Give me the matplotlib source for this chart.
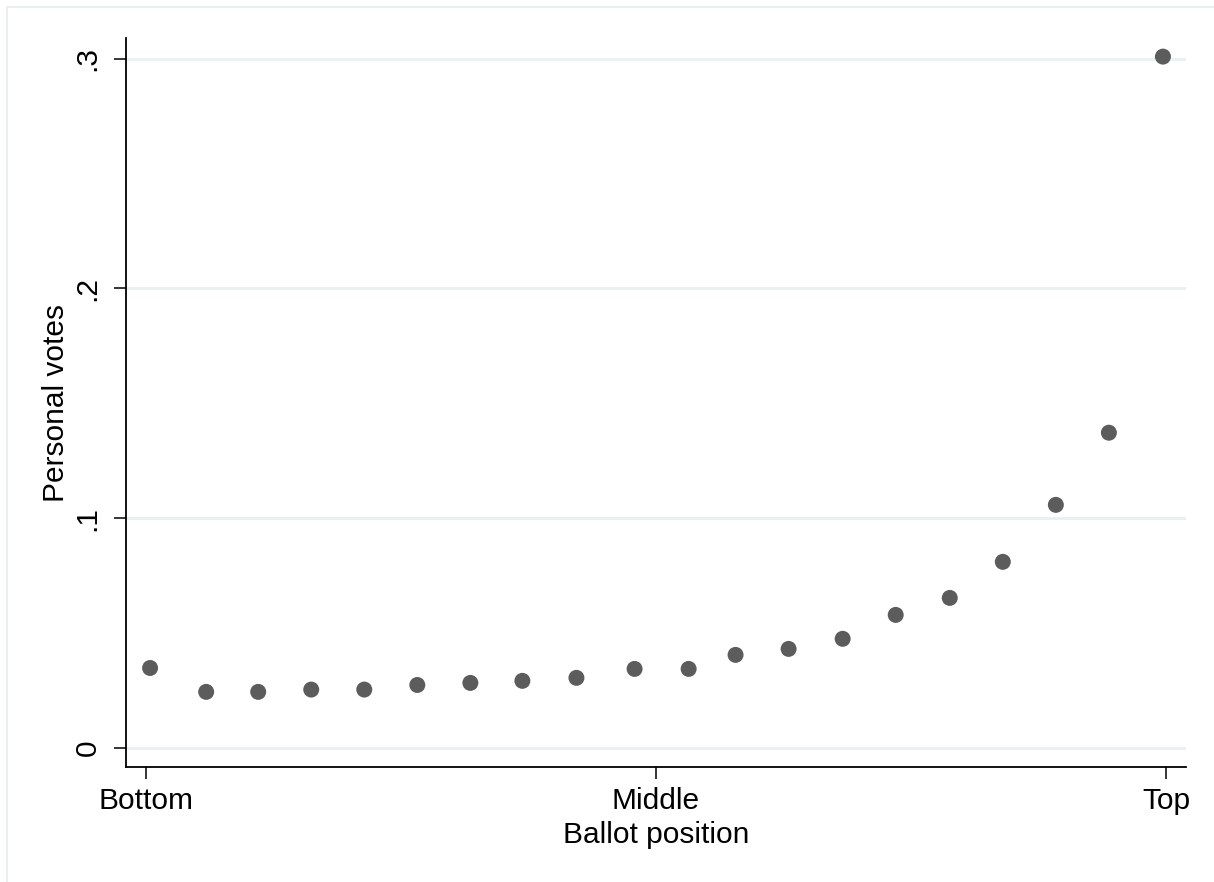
import matplotlib
matplotlib.use("Agg")
import matplotlib.pyplot as plt
from matplotlib.patches import Rectangle

plt.rcParams['font.family'] = ['Liberation Sans', 'DejaVu Sans']

ballot_pos = [0.004, 0.059, 0.110, 0.162, 0.214, 0.266, 0.318, 0.369, 0.422, 0.479,
              0.532, 0.578, 0.630, 0.683, 0.735, 0.788, 0.840, 0.892, 0.944, 0.997]
personal_votes = [0.0348, 0.0244, 0.0244, 0.0254, 0.0254, 0.0274, 0.0283, 0.0292, 0.0305, 0.0344,
                  0.0344, 0.0405, 0.0431, 0.0475, 0.0579, 0.0653, 0.0810, 0.1058, 0.1372, 0.3009]
x_ticks = [0, 0.5, 1]
x_ticklabels = ["Bottom", "Middle", "Top"]
y_ticks = [0, 0.1, 0.2, 0.3]
y_ticklabels = ["0", ".1", ".2", ".3"]

fig = plt.figure(figsize=(12.14, 8.82), dpi=100)
fig.patches.append(Rectangle((7/1214, -0.05), 1.1, 1.05 - 7/882, transform=fig.transFigure,
                             fill=False, edgecolor='#e6eef0', linewidth=1.2))
ax = fig.add_axes([126/1214, 1 - 767/882, 1060/1214, 729/882])

ax.scatter(ballot_pos, personal_votes, s=(11.5)**2, color='#5c5c5c', edgecolors='none', zorder=3)

ax.set_xlim(-0.0196, 1.0196)
ax.set_ylim(-0.0083, 0.309)
ax.set_xticks(x_ticks)
ax.set_xticklabels(x_ticklabels)
ax.set_yticks(y_ticks)
ax.set_yticklabels(y_ticklabels, rotation=90, va='center')

for s in ['top', 'right']:
    ax.spines[s].set_visible(False)
for s in ['left', 'bottom']:
    ax.spines[s].set_linewidth(1.3)
    ax.spines[s].set_color('black')

ax.tick_params(axis='both', length=8.5, width=1.1, labelsize=21.5)
ax.tick_params(axis='y', pad=9)
ax.tick_params(axis='x', pad=6)
ax.grid(axis='y', color='#e8f0f2', linewidth=2)
ax.set_axisbelow(True)

ax.set_xlabel("Ballot position", fontsize=21.5, labelpad=4)
ax.set_ylabel("Personal votes", fontsize=21.5, labelpad=3)

fig.savefig("out.png", dpi=100, facecolor='white')
